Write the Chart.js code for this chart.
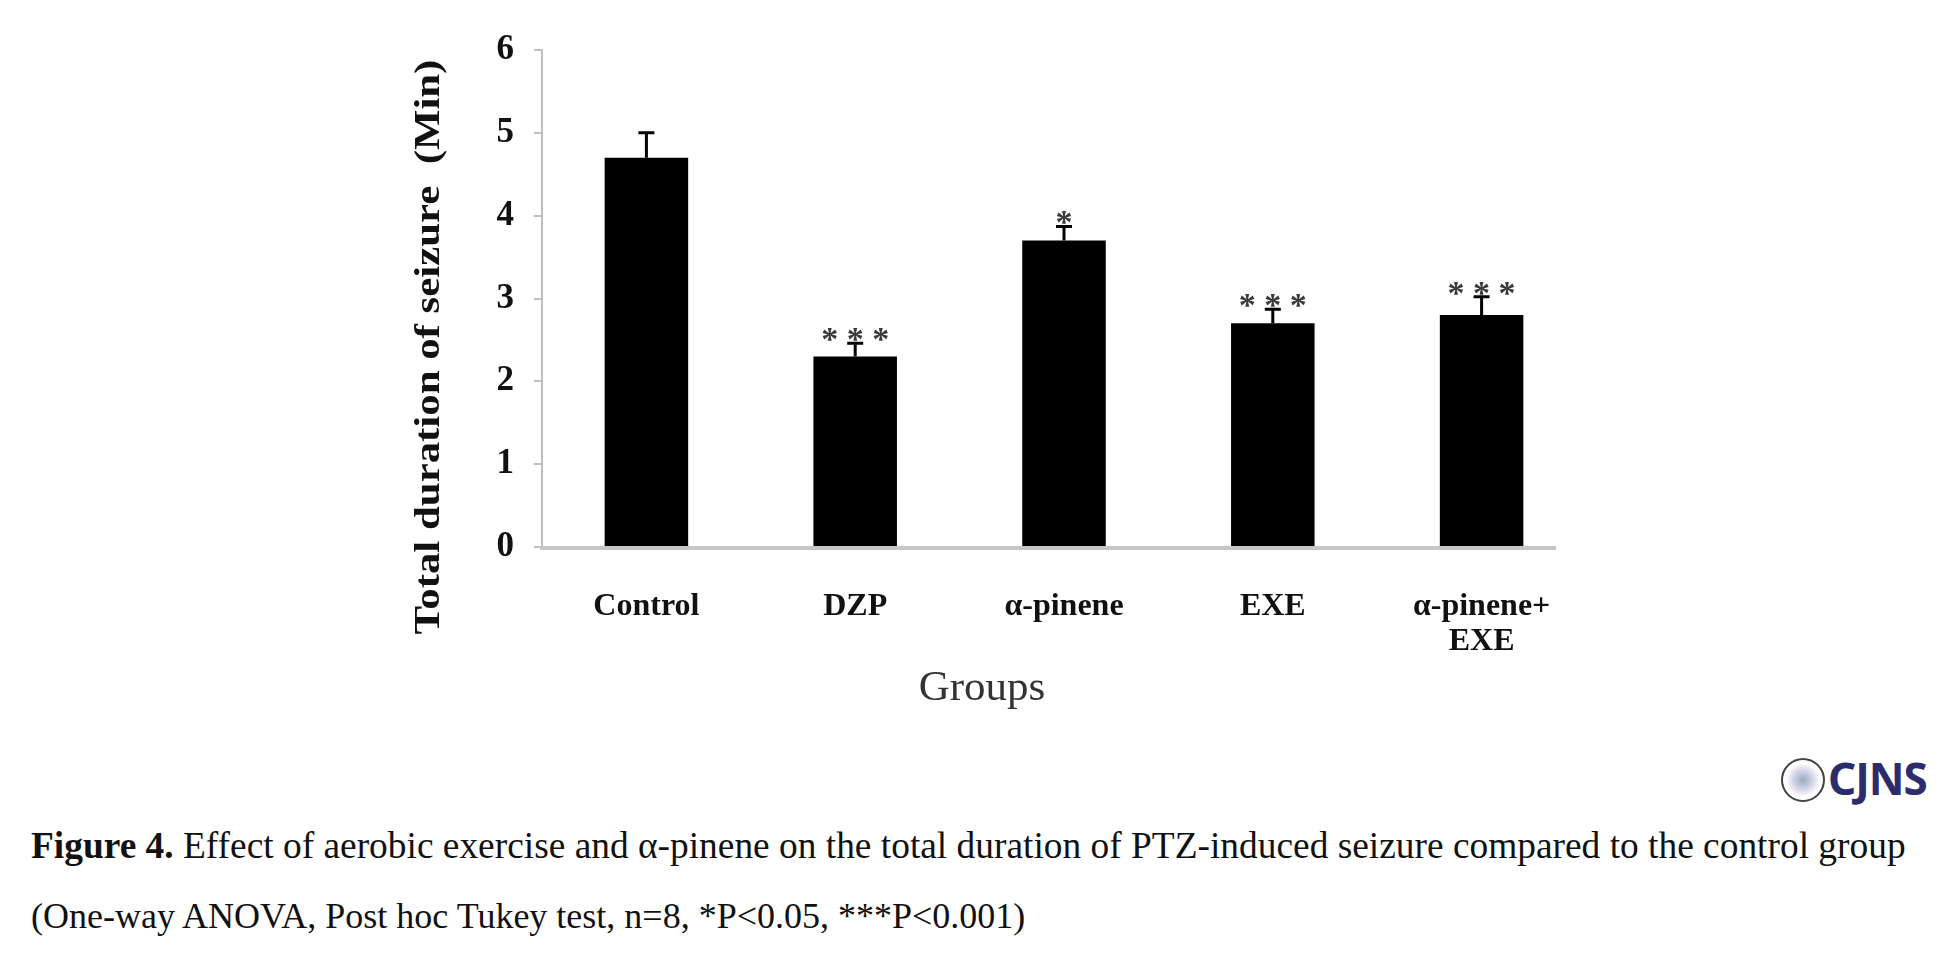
<!DOCTYPE html>
<html>
<head>
<meta charset="utf-8">
<script src="https://cdn.jsdelivr.net/npm/chart.js@4.4.0/dist/chart.umd.min.js"></script>
<style>
    body { margin: 0; background: #fff; width: 1958px; height: 975px; position: relative; overflow: hidden; }
    #wrap { position: absolute; left: 0; top: 0; width: 1958px; height: 740px; }
    .caption { position: absolute; left: 31px; font-family: "Liberation Serif", serif; color: #111; white-space: nowrap; }
    #logo { position: absolute; left: 1781px; top: 758px; }
    #logo .seal { position: absolute; left: 0; top: 0; width: 40px; height: 40px; border: 2px solid #444; border-radius: 50%; background: radial-gradient(circle, #9ab 0, #dde 40%, #fff 60%, #fff 70%, #666 72%, #fff 76%); }
    #logo .name { position: absolute; left: 47px; top: -10px; font-family: "Noto Sans", sans-serif; font-weight: bold; font-size: 44px; color: #2c2c6c; letter-spacing: -1px; }
</style>
</head>
<body>
<div id="wrap"><canvas id="grafico"></canvas></div>
<div id="logo"><div class="seal"></div><div class="name">CJNS</div></div>
<div class="caption" style="top:824px; font-size:37.4px"><b>Figure 4.</b> Effect of aerobic exercise and α-pinene on the total duration of PTZ-induced seizure compared to the control group</div>
<div class="caption" style="top:895px; font-size:36px">(One-way ANOVA, Post hoc Tukey test, n=8, *P&lt;0.05, ***P&lt;0.001)</div>
<script>
const gruppi = ['Control', 'DZP', 'α-pinene', 'EXE', ['α-pinene+', 'EXE']];
const medie = [4.7, 2.3, 3.7, 2.7, 2.8];
const errori = [0.3, 0.16, 0.17, 0.17, 0.22];
const significativita = ['', '***', '*', '***', '***'];
const tickY = [0, 1, 2, 3, 4, 5, 6];
const titoloY = 'Total duration of seizure  (Min)';
const titoloX = 'Groups';

// barre d'errore (solo verso l'alto), asterischi, asse x e titoli degli assi
const erroriPlugin = {
    id: 'erroriPlugin',
    afterDatasetsDraw(chart) {
        const ctx = chart.ctx;
        const meta = chart.getDatasetMeta(0);
        const y = chart.scales.y;
        ctx.save();
        meta.data.forEach((bar, i) => {
            const top = y.getPixelForValue(medie[i] + errori[i]);
            const base = y.getPixelForValue(medie[i]);
            ctx.strokeStyle = '#000';
            ctx.lineWidth = 3;
            ctx.beginPath();
            ctx.moveTo(bar.x, base);
            ctx.lineTo(bar.x, top);
            ctx.moveTo(bar.x - 8, top);
            ctx.lineTo(bar.x + 8, top);
            ctx.stroke();
            if (significativita[i]) {
                ctx.fillStyle = '#3a3a3a';
                ctx.font = 'bold 34px "Liberation Serif"';
                ctx.textAlign = 'center';
                ctx.textBaseline = 'bottom';
                const testo = significativita[i].split('').join(' ');
                ctx.fillText(testo, bar.x, top + 15);
            }
        });

        const area = chart.chartArea;
        ctx.strokeStyle = '#c6c6c6';
        ctx.lineWidth = 4;
        ctx.beginPath();
        ctx.moveTo(area.left - 2, area.bottom + 1);
        ctx.lineTo(area.right - 30, area.bottom + 1);
        ctx.stroke();

        // titolo asse y, ruotato e un po' allargato
        ctx.save();
        ctx.translate(430, 347);
        ctx.rotate(-Math.PI / 2);
        ctx.scale(1.19, 1);
        ctx.fillStyle = '#111';
        ctx.font = 'bold 36px "Liberation Serif"';
        ctx.textAlign = 'center';
        ctx.textBaseline = 'middle';
        ctx.fillText(titoloY, 0, 0);
        ctx.restore();

        // titolo asse x
        ctx.fillStyle = '#333';
        ctx.font = '43px "Liberation Serif"';
        ctx.textAlign = 'center';
        ctx.textBaseline = 'middle';
        ctx.fillText(titoloX, 982, 689);
        ctx.restore();
    }
};

const ctx = document.getElementById('grafico').getContext('2d');
new Chart(ctx, {
    type: 'bar',
    data: {
        labels: gruppi,
        datasets: [{
            data: medie,
            backgroundColor: '#000000',
            borderWidth: 0,
            barPercentage: 0.4,
            categoryPercentage: 1.0
        }]
    },
    options: {
        responsive: true,
        maintainAspectRatio: false,
        animation: false,
        layout: {
            padding: { left: 380, right: 372, top: 50, bottom: 0 }
        },
        plugins: {
            legend: { display: false },
            tooltip: { enabled: false }
        },
        scales: {
            y: {
                min: 0,
                max: 6,
                afterFit: function(scale) { scale.width = 162; },
                afterBuildTicks: function(scale) {
                    scale.ticks = tickY.map(v => ({ value: v }));
                },
                border: { display: true, color: '#c0c0c0', width: 2 },
                grid: {
                    drawOnChartArea: false,
                    drawTicks: true,
                    tickLength: 8,
                    color: '#c0c0c0',
                    lineWidth: 2
                },
                ticks: {
                    padding: 20,
                    color: '#111',
                    font: { family: 'Liberation Serif', size: 35, weight: 'bold' }
                }
            },
            x: {
                afterFit: function(scale) { scale.height = 193; },
                border: { display: false },
                grid: { display: false, drawTicks: false },
                ticks: {
                    padding: 42,
                    color: '#111',
                    font: { family: 'Liberation Serif', size: 32, weight: 'bold', lineHeight: 1.1 }
                }
            }
        }
    },
    plugins: [erroriPlugin]
});
</script>
</body>
</html>
